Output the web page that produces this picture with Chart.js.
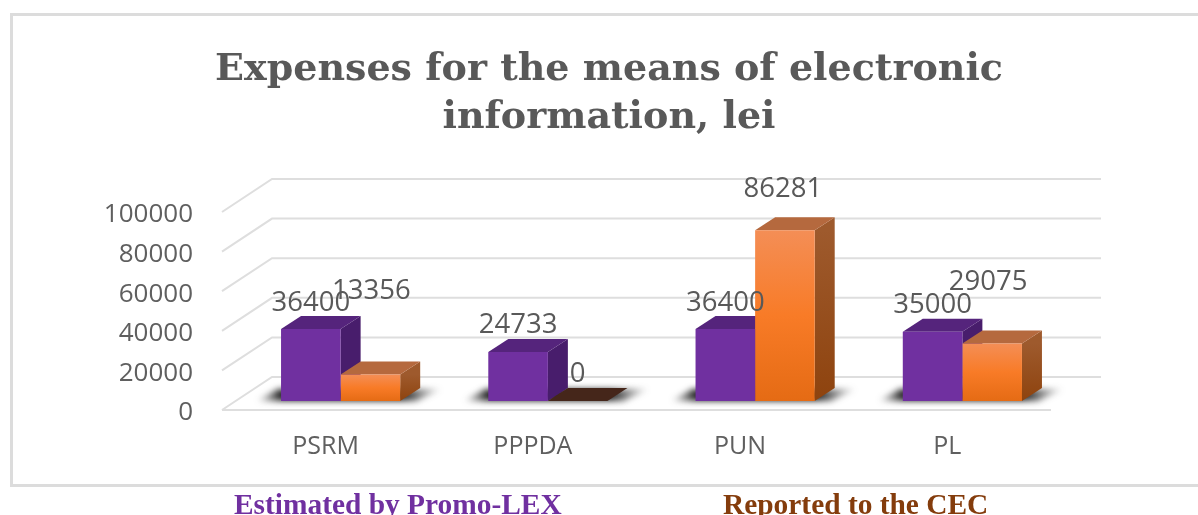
<!DOCTYPE html>
<html>
<head>
<meta charset="utf-8">
<style>
html,body{margin:0;padding:0;background:#fff;overflow:hidden}
#wrap{position:relative;width:1198px;height:515px;overflow:hidden}
#box{position:absolute;left:10px;top:13px;width:1200px;height:468px;border:3px solid #dcdcdc;box-sizing:content-box}
canvas{position:absolute;left:0;top:0}
.leg{position:absolute;top:487px;font:bold 29.4px "Liberation Serif",serif;white-space:nowrap;line-height:34px}
</style>
</head>
<body>
<div id="wrap">
<div id="box"></div>
<canvas id="c" width="1198" height="515"></canvas>
<span class="leg" id="l0" style="left:234px;color:#7030a0"></span>
<span class="leg" id="l1" style="left:723px;color:#843c0c"></span>
</div>
<script src="https://cdn.jsdelivr.net/npm/chart.js@4"></script>
<script>
const titleLines = ["Expenses for the means of electronic", "information, lei"];
const categories = ["PSRM", "PPPDA", "PUN", "PL"];
const seriesNames = ["Estimated by Promo-LEX", "Reported to the CEC"];
const estimated = [36400, 24733, 36400, 35000];
const reported = [13356, 0, 86281, 29075];
const yTicks = [0, 20000, 40000, 60000, 80000, 100000];

// Style / layout constants (pseudo-3D projection of the flat chart)
const WALL = {dx: 50, dy: 33};
const BAR_SHIFT = {dx: 15, dy: 9};
const DEPTH = {dx: 20, dy: 13};
const LABEL_NUDGE = [
  [[0, -26], [0, -27], [0, -26], [0, -27]],
  [[1, -83], [0, -27], [-2, -41], [-4, -61]]
];

const shapes = [
  {top: '#55247c', side: '#481d6c'},
  {top: '#b5693e', side: ['#9e5a2d', '#8e430e'], zeroTop: '#45261a'}
];

function frontFill(kind) {
  return function (c) {
    if (kind === 0) return '#7030a0';
    if (!c.parsed || !c.chart.chartArea) return '#f47b27';
    const y = c.chart.scales.y;
    const top = y.getPixelForValue(c.parsed.y), base = y.getPixelForValue(0);
    if (base - top < 2) return '#45261a';
    const g = c.chart.ctx.createLinearGradient(0, top, 0, base);
    g.addColorStop(0, '#f48e56');
    g.addColorStop(0.5, '#f87b27');
    g.addColorStop(1, '#e56b14');
    return g;
  };
}

function poly(ctx, pts, fill) {
  ctx.beginPath();
  pts.forEach((p, i) => i ? ctx.lineTo(p[0], p[1]) : ctx.moveTo(p[0], p[1]));
  ctx.closePath();
  ctx.fillStyle = fill;
  ctx.fill();
}

const wallPlugin = {
  id: 'wall',
  beforeDatasetsDraw(chart) {
    const {ctx, chartArea: a, scales} = chart;
    ctx.save();
    ctx.strokeStyle = '#dedede';
    ctx.lineWidth = 2;
    yTicks.forEach(v => {
      const y = scales.y.getPixelForValue(v);
      ctx.beginPath();
      ctx.moveTo(a.left, y);
      ctx.lineTo(a.left + WALL.dx, y - WALL.dy);
      ctx.lineTo(a.right + WALL.dx, y - WALL.dy);
      ctx.stroke();
    });
    ctx.beginPath();
    ctx.moveTo(a.left, a.bottom);
    ctx.lineTo(a.right, a.bottom);
    ctx.stroke();
    ctx.restore();

    // everything in the bar layer is shifted into the depth of the floor
    ctx.save();
    ctx.translate(BAR_SHIFT.dx, -BAR_SHIFT.dy);
    const m0 = chart.getDatasetMeta(0).data, m1 = chart.getDatasetMeta(1).data;
    m0.forEach((el, i) => {
      const o = m1[i];
      const l = el.x - el.width / 2, r = o.x + o.width / 2, b = el.base;
      ctx.save();
      ctx.filter = 'blur(3px)';
      const w = r + 42 - (l - 25);
      const g = ctx.createLinearGradient(l - 25, 0, r + 42, 0);
      g.addColorStop(0, 'rgba(50,50,50,0)');
      g.addColorStop(25 / w, 'rgba(35,35,35,1)');
      g.addColorStop((w - 40) / w, 'rgba(35,35,35,1)');
      g.addColorStop(1, 'rgba(50,50,50,0)');
      poly(ctx, [[l - 25, b], [l - 3, b - 12], [r + 42, b - 12], [r + 16, b]], g);
      ctx.restore();
    });
    [0, 1].forEach(d => {
      chart.getDatasetMeta(d).data.forEach(el => {
        const l = el.x - el.width / 2, r = el.x + el.width / 2, t = el.y, b = el.base;
        const st = shapes[d];
        let sideFill = st.side;
        if (Array.isArray(sideFill)) {
          const g = ctx.createLinearGradient(0, t, 0, b);
          g.addColorStop(0, sideFill[0]);
          g.addColorStop(1, sideFill[1]);
          sideFill = g;
        }
        if (b - t > 1) poly(ctx, [[r, t], [r + DEPTH.dx, t - DEPTH.dy], [r + DEPTH.dx, b - DEPTH.dy], [r, b]], sideFill);
        const topFill = (b - t < 1 && st.zeroTop) ? st.zeroTop : st.top;
        poly(ctx, [[l, t], [l + DEPTH.dx, t - DEPTH.dy], [r + DEPTH.dx, t - DEPTH.dy], [r, t]], topFill);
      });
    });
  },
  afterDatasetsDraw(chart) {
    const ctx = chart.ctx;
    [0, 1].forEach(d => {
      chart.getDatasetMeta(d).data.forEach((el, i) => {
        const n = LABEL_NUDGE[d][i];
        ctx.save();
        ctx.font = '27.5px "Open Sans"';
        ctx.fillStyle = '#595959';
        ctx.textAlign = 'center';
        ctx.textBaseline = 'middle';
        ctx.fillText(String(chart.data.datasets[d].data[i]), el.x + n[0], el.y + n[1]);
        ctx.restore();
      });
    });
    ctx.restore();
  }
};

document.getElementById('l0').textContent = seriesNames[0];
document.getElementById('l1').textContent = seriesNames[1];

new Chart(document.getElementById('c'), {
  type: 'bar',
  data: {
    labels: categories,
    datasets: [
      {label: seriesNames[0], data: estimated, backgroundColor: frontFill(0)},
      {label: seriesNames[1], data: reported, backgroundColor: frontFill(1)}
    ]
  },
  options: {
    responsive: false,
    animation: false,
    layout: {padding: {left: 20}},
    datasets: {bar: {barPercentage: 1, categoryPercentage: 0.575}},
    plugins: {
      legend: {display: false},
      tooltip: {enabled: false},
      title: {
        display: true,
        text: titleLines,
        color: '#595959',
        font: {family: '"DejaVu Serif"', size: 38, weight: 'bold', lineHeight: 48 / 38},
        padding: {top: 46, bottom: 70}
      }
    },
    scales: {
      x: {
        grid: {display: false},
        border: {display: false},
        ticks: {color: '#5f5f5f', font: {family: '"Open Sans"', size: 25}, padding: 14},
        afterFit(s) { s.height = 105; }
      },
      y: {
        min: 0,
        max: 100000,
        grid: {display: false},
        border: {display: false},
        ticks: {
          stepSize: 20000,
          color: '#5f5f5f',
          font: {family: '"Open Sans"', size: 26},
          padding: 21,
          labelOffset: 3,
          callback: v => String(v)
        },
        afterFit(s) { s.width = 202; }
      },
      spacer: {
        type: 'linear',
        position: 'right',
        min: 0,
        max: 1,
        grid: {display: false},
        border: {display: false},
        ticks: {display: false},
        afterFit(s) { s.width = 147; }
      }
    }
  },
  plugins: [wallPlugin]
});
</script>
</body>
</html>
